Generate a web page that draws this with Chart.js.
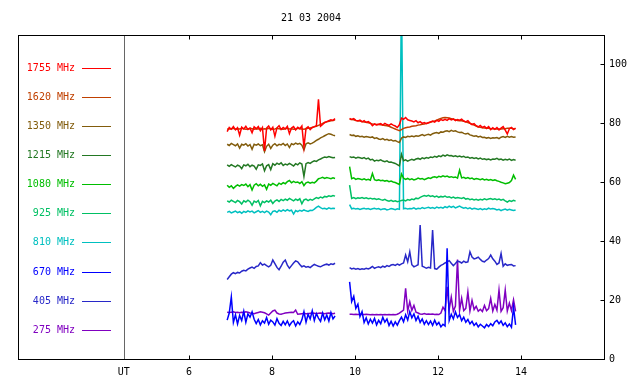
<!DOCTYPE html>
<html>
<head>
<meta charset="utf-8">
<script src="https://cdn.jsdelivr.net/npm/chart.js@4.4.0/dist/chart.umd.min.js"></script>
<style>body{margin:0;background:#fff}</style>
</head>
<body>
<canvas id="myChart" width="640" height="384"></canvas>
<script>
// Title and axis ticks
const title = '21 03 2004';
const xTicks = [6, 8, 10, 12, 14];
const utHour = 4.43;
const yTicks = [0, 20, 40, 60, 80, 100];

// Sampling times (hours UT); 9.70 is the data gap
const hours = [
  6.92,6.97,7.02,7.07,7.12,7.17,7.22,7.27,7.32,7.37,
  7.42,7.47,7.52,7.57,7.62,7.67,7.72,7.77,7.82,7.87,
  7.92,7.97,8.02,8.07,8.12,8.17,8.22,8.27,8.32,8.37,
  8.42,8.47,8.52,8.57,8.62,8.67,8.72,8.77,8.82,8.87,
  8.92,8.97,9.02,9.07,9.12,9.17,9.22,9.27,9.32,9.37,
  9.42,9.47,9.52,
  9.70,
  9.87,9.92,9.97,10.02,10.07,10.12,10.17,10.22,10.27,10.32,
  10.37,10.42,10.47,10.52,10.57,10.62,10.67,10.72,10.77,10.82,
  10.87,10.92,10.97,11.02,11.07,11.12,11.17,11.22,11.27,11.32,
  11.37,11.42,11.47,11.52,11.57,11.62,11.67,11.72,11.77,11.82,
  11.87,11.92,11.97,12.02,12.07,12.12,12.17,12.22,12.27,12.32,
  12.37,12.42,12.47,12.52,12.57,12.62,12.67,12.72,12.77,12.82,
  12.87,12.92,12.97,13.02,13.07,13.12,13.17,13.22,13.27,13.32,
  13.37,13.42,13.47,13.52,13.57,13.62,13.67,13.72,13.77,13.82,
  13.87
];

const f1755 = [
  77.2,78.6,78.0,78.9,77.8,78.5,76.0,78.7,78.1,79.0,
  77.9,78.4,76.8,78.8,78.2,78.9,77.5,78.6,70.6,78.4,
  79.1,77.8,78.7,75.6,78.5,79.2,77.9,78.6,78.1,79.0,
  76.5,78.4,78.9,77.8,78.7,78.2,79.1,72.0,78.3,78.8,
  77.9,78.6,78.9,79.2,88.2,79.0,79.6,80.3,80.6,80.9,
  81.2,81.0,81.6,
  null,
  81.7,81.3,81.6,81.0,80.8,81.1,80.5,80.9,80.3,80.6,
  80.1,79.2,79.8,79.5,79.7,79.9,79.4,80.0,79.6,79.3,
  79.8,79.4,79.1,78.6,79.5,81.8,81.4,82.0,81.2,81.0,
  80.8,80.5,80.9,80.2,80.6,80.0,80.3,79.9,80.2,80.5,
  80.8,80.4,81.0,80.7,81.3,81.0,81.4,81.0,81.6,81.2,
  81.5,80.9,81.3,81.1,81.4,80.8,80.5,80.9,80.1,79.6,
  79.9,79.2,78.8,79.3,78.6,79.0,78.3,78.9,77.9,78.5,
  78.0,78.6,77.8,78.4,78.9,77.7,76.4,78.2,78.6,77.9,
  78.3
];
const f1620 = [
  78.0,78.2,78.1,78.3,78.0,78.2,78.1,78.3,78.2,78.0,
  78.1,78.3,78.2,78.0,78.2,78.1,78.3,78.0,78.2,78.1,
  78.3,78.2,78.0,78.1,78.3,78.2,78.1,78.0,78.2,78.3,
  78.1,78.2,78.0,78.1,78.3,78.2,78.1,78.0,78.2,78.3,
  78.4,78.6,78.8,79.0,79.3,79.6,80.0,80.3,80.5,80.7,
  80.9,81.0,81.2,
  null,
  81.4,81.3,81.2,81.0,80.9,80.8,80.6,80.5,80.4,80.2,
  80.0,79.8,79.7,79.6,79.6,79.5,79.4,79.3,79.2,79.0,
  78.7,78.4,78.1,77.8,77.5,77.9,78.3,78.5,78.7,78.8,
  79.0,79.1,79.2,79.4,79.5,79.7,79.8,80.0,80.2,80.4,
  80.6,80.8,81.1,81.4,81.7,81.9,82.0,81.9,81.8,81.6,
  81.4,81.2,81.0,80.9,80.9,80.7,80.5,80.3,80.0,79.7,
  79.4,79.1,78.8,78.7,78.5,78.4,78.3,78.3,78.2,78.2,
  78.1,78.1,78.0,78.1,78.2,78.2,78.3,78.3,78.3,78.2,
  78.3
];
const f1350 = [
  72.9,72.5,73.2,72.8,72.4,73.0,71.6,72.9,72.6,73.1,
  72.3,72.8,71.2,72.9,72.6,73.0,72.4,72.7,70.4,72.2,
  72.9,71.5,72.6,73.1,72.4,72.9,72.7,73.2,72.5,73.0,
  71.8,73.1,72.8,73.3,72.9,73.2,72.6,71.0,73.1,73.4,
  73.0,73.3,73.7,74.2,74.6,75.1,75.4,75.8,76.2,76.5,
  76.3,76.0,75.8,
  null,
  76.2,75.9,76.0,75.6,75.8,75.5,75.6,75.3,75.5,75.4,
  75.2,75.4,74.9,75.1,74.7,74.5,74.8,74.4,74.6,74.2,
  74.4,74.0,74.2,73.8,73.5,75.0,75.4,75.2,75.6,75.5,
  75.7,75.5,75.8,75.6,75.9,76.2,75.8,76.1,76.3,76.0,
  76.5,76.7,76.9,76.6,77.1,77.0,77.3,77.5,77.2,77.6,
  77.3,77.5,77.1,76.9,77.0,76.6,76.4,76.6,76.1,75.9,
  75.6,75.8,75.4,75.6,75.2,75.3,75.0,75.2,74.9,75.1,
  75.0,75.2,74.8,75.3,75.5,75.2,75.6,75.3,75.5,75.3,
  75.4
];
const f1215 = [
  65.9,65.4,66.0,65.6,65.2,65.8,65.5,64.6,65.9,65.6,
  66.1,65.3,65.8,65.5,64.4,65.9,65.7,66.2,63.9,65.6,
  66.0,64.3,66.3,65.8,66.5,66.1,66.6,65.7,66.2,65.9,
  66.4,66.0,65.5,66.3,65.9,66.6,66.2,62.0,66.3,66.7,
  66.4,66.9,67.3,67.1,67.6,67.9,68.3,68.6,68.4,68.7,
  68.5,68.3,68.4,
  null,
  68.7,68.4,68.6,68.2,68.5,68.3,68.1,68.4,67.9,68.2,
  67.6,67.8,67.2,67.5,67.3,67.6,67.2,67.0,67.3,66.8,
  66.9,66.6,66.4,66.0,65.6,69.5,67.3,67.6,67.2,67.5,
  67.8,67.5,67.9,68.1,67.8,68.3,68.0,68.4,68.2,68.6,
  68.4,68.8,68.5,69.0,68.7,69.2,68.9,69.3,69.0,69.1,
  68.8,69.0,68.7,68.9,68.6,68.8,68.4,68.6,68.2,68.4,
  68.1,68.3,67.9,68.2,67.8,68.0,67.7,67.9,67.6,67.9,
  67.8,68.1,67.7,67.9,67.5,67.8,67.6,67.9,67.4,67.7,
  67.5
];
const f1080 = [
  59.0,58.3,58.8,57.9,58.6,59.1,58.7,59.2,58.9,59.4,
  58.5,59.2,57.4,59.0,59.5,58.8,59.3,58.6,59.1,57.6,
  59.4,59.0,59.6,59.2,58.8,59.7,59.3,59.9,59.5,60.2,
  60.6,59.8,60.3,59.9,60.1,59.6,60.2,58.9,59.8,60.1,
  59.7,60.0,59.8,60.4,61.2,61.4,61.7,61.3,61.6,61.4,
  61.2,61.5,61.3,
  null,
  65.3,61.2,61.5,61.0,61.3,61.1,60.9,61.2,60.8,61.0,
  60.7,63.0,60.9,60.6,60.8,60.5,60.7,60.4,60.6,60.2,
  60.4,60.1,59.9,59.6,59.3,62.8,61.4,61.0,61.3,60.9,
  61.2,60.8,61.0,61.4,61.1,61.3,60.9,61.2,61.5,61.3,
  61.7,61.9,61.6,62.0,61.8,62.2,61.9,62.1,61.7,61.9,
  61.6,61.8,61.4,64.1,61.5,61.7,61.3,61.6,61.2,61.4,
  61.0,61.3,61.1,60.9,61.2,60.8,61.0,60.7,60.9,60.6,
  60.8,60.5,60.3,60.0,59.8,59.5,59.7,59.9,60.6,62.4,
  61.0
];
const f925 = [
  53.7,53.3,53.9,53.5,53.1,53.8,53.4,52.6,53.7,53.3,
  53.9,53.4,52.2,53.6,53.2,53.8,52.0,53.5,53.1,53.7,
  53.3,53.9,52.8,53.6,54.0,53.5,54.2,53.8,54.3,53.9,
  54.5,54.1,53.7,54.3,53.9,54.4,52.7,54.0,54.3,53.8,
  54.2,53.9,54.4,54.8,54.5,55.0,54.7,55.2,55.0,55.4,
  55.2,55.5,55.3,
  null,
  59.0,54.5,54.8,54.4,54.7,54.6,54.8,54.5,54.7,54.4,
  54.6,54.3,54.5,54.2,54.4,54.1,53.9,54.2,53.8,53.6,
  53.9,53.5,53.7,53.4,53.6,53.8,54.0,53.7,54.1,53.9,
  54.3,54.1,54.6,54.4,54.9,55.2,55.5,55.3,55.6,55.2,
  55.4,55.0,55.3,54.9,55.2,55.0,55.3,54.9,55.1,54.7,
  55.0,54.6,54.8,54.7,54.5,54.8,54.3,54.5,54.1,54.3,
  54.0,54.2,53.9,54.2,54.0,54.4,54.1,54.3,54.5,54.2,
  54.4,54.1,54.3,53.9,54.2,53.7,53.3,53.8,53.5,53.9,
  53.6
];
const f810 = [
  49.8,50.1,49.6,49.9,50.2,49.7,50.0,49.5,50.1,49.8,
  50.3,49.9,50.2,49.6,50.0,50.4,49.8,50.1,49.7,50.2,
  49.9,49.0,50.1,50.3,49.8,50.5,50.1,50.6,50.2,50.7,
  50.3,50.5,49.2,50.4,50.0,50.5,50.2,50.6,50.3,50.1,
  50.5,50.4,50.9,51.5,51.9,51.4,51.0,51.2,50.9,51.3,
  51.0,51.2,51.1,
  null,
  52.4,51.0,51.2,50.9,51.1,50.8,51.0,51.2,50.9,51.1,
  50.8,51.0,51.2,50.9,51.1,50.7,50.9,51.0,50.6,50.8,
  51.1,50.9,50.7,51.0,50.8,125.0,51.0,51.2,50.9,51.1,
  51.0,51.3,50.9,51.2,51.0,51.4,51.1,51.3,51.5,51.2,
  51.4,51.1,51.6,51.3,51.5,51.2,51.7,51.4,51.9,51.5,
  51.8,51.3,51.6,51.9,51.5,51.2,51.4,51.0,51.3,50.9,
  51.2,51.0,50.8,51.1,50.7,51.0,50.8,51.2,50.9,51.1,
  50.9,50.6,50.8,50.4,50.7,50.9,50.5,50.8,50.6,50.4,
  50.6
];
const f670 = [
  13.2,15.6,21.1,12.4,15.0,11.9,14.8,13.1,16.2,12.5,
  15.3,14.2,16.0,13.5,12.0,13.4,11.6,13.0,12.2,14.1,
  11.8,13.2,12.6,11.5,13.7,12.1,11.4,12.8,11.6,12.9,
  11.3,12.4,13.0,11.2,12.6,11.7,13.3,16.1,12.5,15.2,
  13.6,16.4,13.1,15.4,13.9,12.8,15.6,13.3,14.9,12.9,
  15.8,13.6,14.6,
  null,
  26.2,19.5,21.3,17.2,18.6,14.4,16.1,12.4,14.0,11.9,
  13.5,12.2,13.8,11.6,13.1,12.0,14.2,12.5,13.6,11.4,
  12.8,11.2,12.6,11.5,13.0,14.2,12.6,15.0,13.2,16.1,
  14.0,15.3,13.1,14.5,12.4,13.6,11.8,13.0,11.7,12.9,
  11.4,13.2,11.6,12.4,10.9,11.8,11.2,37.6,13.1,15.2,
  13.6,16.0,14.1,15.1,13.0,14.2,12.5,13.4,11.9,12.8,
  11.4,12.2,10.9,11.8,11.2,10.6,11.7,11.0,12.0,11.3,
  12.6,13.1,12.0,12.9,11.4,12.3,11.0,11.9,10.8,17.5,
  11.6
];
const f405 = [
  27.0,27.9,28.8,29.3,29.0,29.4,29.2,29.8,30.1,29.9,
  30.5,30.9,31.2,30.8,31.4,31.6,32.7,31.9,32.2,31.7,
  31.3,31.8,33.6,32.4,31.1,30.3,31.5,32.9,33.6,31.9,
  30.8,31.7,32.6,33.3,33.0,32.1,31.3,31.6,31.2,31.4,
  31.0,31.6,32.1,31.8,31.5,31.3,31.7,32.0,32.2,31.9,
  32.3,32.1,32.5,
  null,
  31.0,30.6,30.8,30.5,30.7,30.4,30.6,30.5,30.8,30.6,
  30.9,31.4,30.8,31.1,31.3,31.0,31.5,31.2,31.7,31.4,
  31.9,32.1,31.8,32.2,31.9,32.3,32.6,35.3,33.0,36.4,
  32.0,31.3,31.6,32.0,45.5,31.5,31.2,30.8,31.1,30.9,
  43.8,30.7,30.5,31.2,31.8,32.1,32.6,33.0,33.4,32.5,
  31.7,32.4,33.2,33.0,32.6,33.2,32.8,33.0,36.4,34.6,
  34.0,34.2,34.6,33.8,33.2,33.0,33.6,34.1,35.3,34.0,
  33.2,32.1,32.6,35.8,31.5,32.3,31.8,32.0,32.1,31.6,
  31.7
];
const f275 = [
  15.9,15.8,15.9,16.0,15.8,15.9,15.7,15.9,15.8,16.0,
  15.9,15.6,15.5,15.4,15.6,15.8,16.0,15.9,15.7,15.3,
  14.9,15.6,16.3,16.6,15.6,15.3,15.2,15.4,15.6,15.7,
  15.8,15.9,15.8,16.6,15.2,15.3,15.4,15.5,15.4,15.4,
  15.5,15.6,15.5,15.4,15.5,15.6,15.5,15.4,15.5,15.6,
  15.5,15.4,15.5,
  null,
  15.2,15.2,15.1,15.2,15.1,15.2,15.1,15.1,15.2,15.1,
  15.0,15.1,15.0,15.1,15.0,15.1,15.0,15.1,15.0,15.1,
  15.0,15.1,15.0,15.2,15.6,16.1,16.6,24.0,16.3,19.4,
  16.5,18.2,15.9,15.6,15.3,15.2,15.4,15.2,15.3,15.2,
  15.3,15.1,15.2,15.1,15.6,17.6,16.4,24.5,16.8,21.0,
  16.2,18.0,33.8,16.5,20.6,16.4,17.2,22.8,16.3,19.9,
  16.8,17.9,16.2,16.9,16.1,18.2,16.4,17.1,20.6,16.3,
  18.5,16.6,23.4,16.2,17.4,23.4,16.3,19.0,16.5,20.1,
  16.2
];

const seriesNames = ['1755 MHz', '1620 MHz', '1350 MHz', '1215 MHz', '1080 MHz',
                     '925 MHz', '810 MHz', '670 MHz', '405 MHz', '275 MHz'];
const seriesData = [f1755, f1620, f1350, f1215, f1080, f925, f810, f670, f405, f275];
const colors = ['#ff0000', '#c04000', '#825c0c', '#237823', '#00be00',
                '#00c064', '#00c0c0', '#0000ff', '#2828c8', '#8000c0'];

const monoFont = "'DejaVu Sans Mono', monospace";

// frame, inward ticks, UT line, title and the left-hand legend
const decor = {
  id: 'decor',
  beforeDatasetsDraw(chart) {
    const {ctx, chartArea: a, scales: {x}} = chart;
    const ux = Math.round(x.getPixelForValue(utHour)) + 0.5;
    ctx.save();
    ctx.strokeStyle = '#666';
    ctx.lineWidth = 1;
    ctx.beginPath();
    ctx.moveTo(ux, a.top);
    ctx.lineTo(ux, a.bottom);
    ctx.stroke();
    ctx.restore();
  },
  afterDatasetsDraw(chart) {
    const {ctx, chartArea: a, scales: {x, y}} = chart;
    ctx.save();
    ctx.strokeStyle = '#000';
    ctx.lineWidth = 1;
    const l = Math.round(a.left) + 0.5, r = Math.round(a.right) + 0.5;
    const t = Math.round(a.top) + 0.5, b = Math.round(a.bottom) + 0.5;
    ctx.strokeRect(l, t, r - l, b - t);
    ctx.beginPath();
    xTicks.forEach(v => {
      const px = Math.round(x.getPixelForValue(v)) + 0.5;
      ctx.moveTo(px, t); ctx.lineTo(px, t + 4);
      ctx.moveTo(px, b); ctx.lineTo(px, b - 4);
    });
    yTicks.forEach(v => {
      const py = Math.round(y.getPixelForValue(v)) + 0.5;
      ctx.moveTo(r, py); ctx.lineTo(r - 4, py);
    });
    ctx.stroke();

    ctx.font = '10px ' + monoFont;
    ctx.textBaseline = 'middle';
    ctx.fillStyle = '#000';
    ctx.textAlign = 'center';
    ctx.fillText(title, (a.left + a.right) / 2, 18);

    ctx.textAlign = 'right';
    seriesNames.forEach((name, i) => {
      const ly = Math.round(a.top + 32.5 + i * 29.15) + 0.5;
      ctx.fillStyle = colors[i];
      ctx.strokeStyle = colors[i];
      ctx.fillText(name, a.left + 57, ly);
      ctx.beginPath();
      ctx.moveTo(a.left + 64, ly);
      ctx.lineTo(a.left + 93, ly);
      ctx.stroke();
    });
    ctx.restore();
  }
};

let ctx = document.getElementById('myChart').getContext('2d');
let chart = new Chart(ctx, {
  type: 'line',
  data: {
    datasets: seriesData.map((d, i) => ({
      label: seriesNames[i],
      data: hours.map((h, k) => ({x: h, y: d[k]})),
      borderColor: colors[i],
      borderWidth: 1.5,
      pointRadius: 0,
      spanGaps: false,
      tension: 0
    }))
  },
  options: {
    responsive: false,
    animation: false,
    layout: {padding: {left: 18, top: 35, right: 0, bottom: 0}},
    plugins: {legend: {display: false}, tooltip: {enabled: false}},
    scales: {
      x: {
        type: 'linear', min: 1.88, max: 16,
        grid: {display: false, drawTicks: false}, border: {display: false},
        afterBuildTicks: s => { s.ticks = [utHour, ...xTicks].map(v => ({value: v})); },
        afterFit: s => { s.height = 25; },
        ticks: {
          font: {family: monoFont, size: 10}, color: '#000', padding: 7,
          maxRotation: 0, autoSkip: false,
          callback: v => v === utHour ? 'UT' : String(v)
        }
      },
      y: {
        position: 'right', min: 0, max: 110,
        grid: {display: false, drawTicks: false}, border: {display: false},
        afterBuildTicks: s => { s.ticks = yTicks.map(v => ({value: v})); },
        afterFit: s => { s.width = 36; },
        ticks: {font: {family: monoFont, size: 10}, color: '#000', padding: 5}
      }
    }
  },
  plugins: [decor]
});
</script>
</body>
</html>
